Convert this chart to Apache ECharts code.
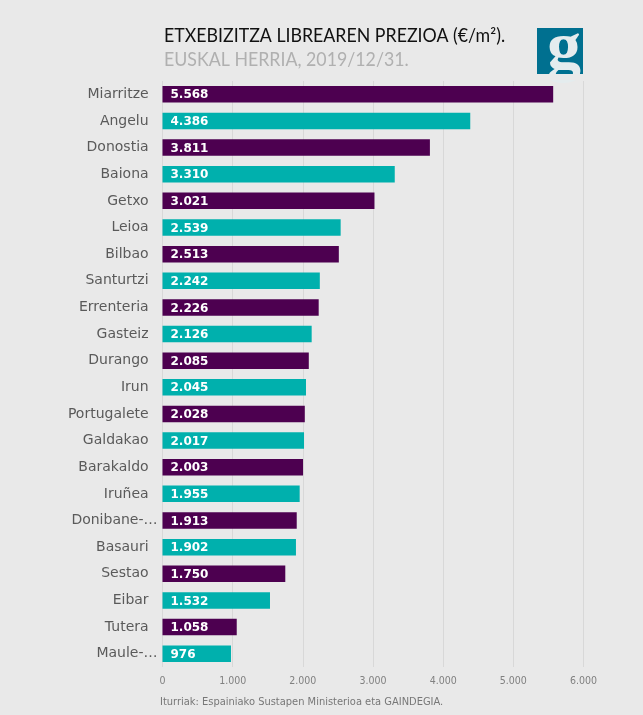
<!DOCTYPE html>
<html>
<head>
<meta charset="utf-8">
<script src="https://cdn.jsdelivr.net/npm/echarts@6/dist/echarts.min.js"></script>
<style>
  html, body { margin: 0; padding: 0; background: #e9e9e9; }
  #chart { width: 643px; height: 715px; }
</style>
</head>
<body>
<div id="chart"></div>
<script>
const cities = ["Miarritze", "Angelu", "Donostia", "Baiona", "Getxo", "Leioa", "Bilbao", "Santurtzi", "Errenteria", "Gasteiz", "Durango", "Irun", "Portugalete", "Galdakao", "Barakaldo", "Iruñea", "Donibane-…", "Basauri", "Sestao", "Eibar", "Tutera", "Maule-…"];
const prices = [5568, 4386, 3811, 3310, 3021, 2539, 2513, 2242, 2226, 2126, 2085, 2045, 2028, 2017, 2003, 1955, 1913, 1902, 1750, 1532, 1058, 976];
const barColors = ["#4d0050", "#00b0ad"];

const labelFont = "'DejaVu Sans Condensed', 'DejaVu Sans', sans-serif";

const chart = echarts.init(document.getElementById("chart"));
chart.setOption({
  backgroundColor: "#e9e9e9",
  animation: false,
  grid: { left: 162.5, top: 81, width: 421, height: 586 },
  xAxis: {
    type: "value",
    min: 0,
    max: 6000,
    interval: 1000,
    axisLine: { show: false },
    axisTick: { show: false },
    splitLine: { lineStyle: { color: "#d8d8d8", width: 1 } },
    axisLabel: {
      margin: 9,
      color: "#808080",
      fontFamily: labelFont,
      fontSize: 10.5,
      formatter: v => (v === 0 ? "0" : v / 1000 + ".000")
    }
  },
  yAxis: {
    type: "category",
    inverse: true,
    data: cities,
    axisLine: { show: false },
    axisTick: { show: false },
    axisLabel: {
      margin: 5,
      color: "#5a5a5a",
      fontFamily: "'DejaVu Sans', sans-serif",
      fontSize: 14,
      // the cut-off names hang past the right edge of the others
      formatter: v => (v.endsWith("…") ? v : v + "\u00a0\u00a0")
    }
  },
  series: [{
    type: "bar",
    barWidth: 16.5,
    data: prices,
    itemStyle: { color: p => barColors[p.dataIndex % 2] },
    label: {
      show: true,
      position: "insideLeft",
      distance: 8,
      offset: [0, 1],
      color: "#ffffff",
      fontFamily: "'DejaVu Sans', sans-serif",
      fontWeight: "bold",
      fontSize: 12,
      formatter: p => (p.value >= 1000 ? String(p.value).replace(/(\d)(\d{3})$/, "$1.$2") : String(p.value))
    }
  }],
  graphic: [
    { type: "text", x: 164, y: 27, scaleX: 0.96, style: { text: "ETXEBIZITZA LIBREAREN PREZIOA (€/m²).", fill: "#111111", font: "18.5px Lato, sans-serif" } },
    { type: "text", x: 164, y: 51, scaleX: 0.96, style: { text: "EUSKAL HERRIA, 2019/12/31.", fill: "#b0b0b0", font: "18.5px Lato, sans-serif" } },
    { type: "rect", shape: { x: 537, y: 28, width: 46, height: 46 }, style: { fill: "#007090" } },
    { type: "text", x: 564, y: 17, style: { text: "g", fill: "#e4ecee", align: "center", font: "bold 68px 'Liberation Serif', serif" } },
    { type: "rect", shape: { x: 530, y: 74, width: 60, height: 6 }, style: { fill: "#e9e9e9" } },
    { type: "rect", shape: { x: 583, y: 20, width: 10, height: 60 }, style: { fill: "#e9e9e9" } },
    { type: "text", left: 160, top: 697, style: { text: "Iturriak: Espainiako Sustapen Ministerioa eta GAINDEGIA.", fill: "#777777", font: "11px 'DejaVu Sans Condensed', 'DejaVu Sans', sans-serif" } }
  ]
});
</script>
</body>
</html>
